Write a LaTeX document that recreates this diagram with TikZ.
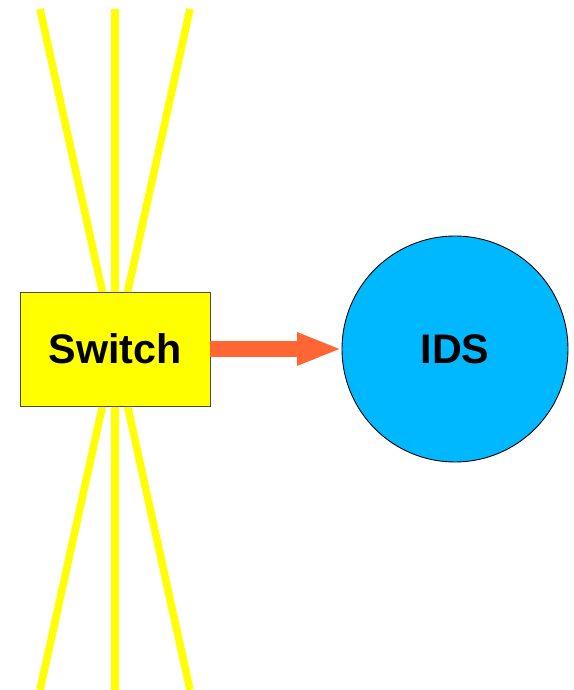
\documentclass[tikz,border=0pt]{standalone}
\usepackage{fontspec}
\setmainfont{Liberation Sans}
\usetikzlibrary{arrows.meta}

\definecolor{linkyellow}{HTML}{FFFF00}
\definecolor{tapred}{HTML}{FF6633}
\definecolor{idsblue}{HTML}{00B8FF}

\begin{document}
\begin{tikzpicture}
    \useasboundingbox (0,0) rectangle (11.46,13.8);

    % Ends of the cables running through the switch
    \coordinate (t1) at (0.8,13.62);
    \coordinate (t2) at (2.3,13.62);
    \coordinate (t3) at (3.8,13.62);
    \coordinate (b1) at (0.8,0);
    \coordinate (b2) at (2.3,0);
    \coordinate (b3) at (3.8,0);

    % Switch and IDS
    \coordinate (sw-c) at (2.3,6.82);
    \foreach \e in {t1,t2,t3,b1,b2,b3}
        \draw[linkyellow, line width=0.15cm] (sw-c) -- (\e);

    \node[draw=black!80!yellow, fill=linkyellow, line width=0.5pt, outer sep=0pt, minimum width=3.8cm, minimum height=2.28cm, font=\fontsize{23.5}{27}\selectfont\bfseries] (sw) at (sw-c) {Switch};
    \node[draw, circle, fill=idsblue, line width=0.5pt, outer sep=0pt, minimum size=4.52cm, inner sep=0pt, font=\fontsize{23.5}{27}\selectfont\bfseries] (ids) at (9.1,6.82) {IDS};

    % Mirrored traffic to the IDS
    \draw[-{Triangle[length=0.9cm, width=0.6cm]}, tapred, line width=0.32cm] (sw) -- (ids);
\end{tikzpicture}
\end{document}
